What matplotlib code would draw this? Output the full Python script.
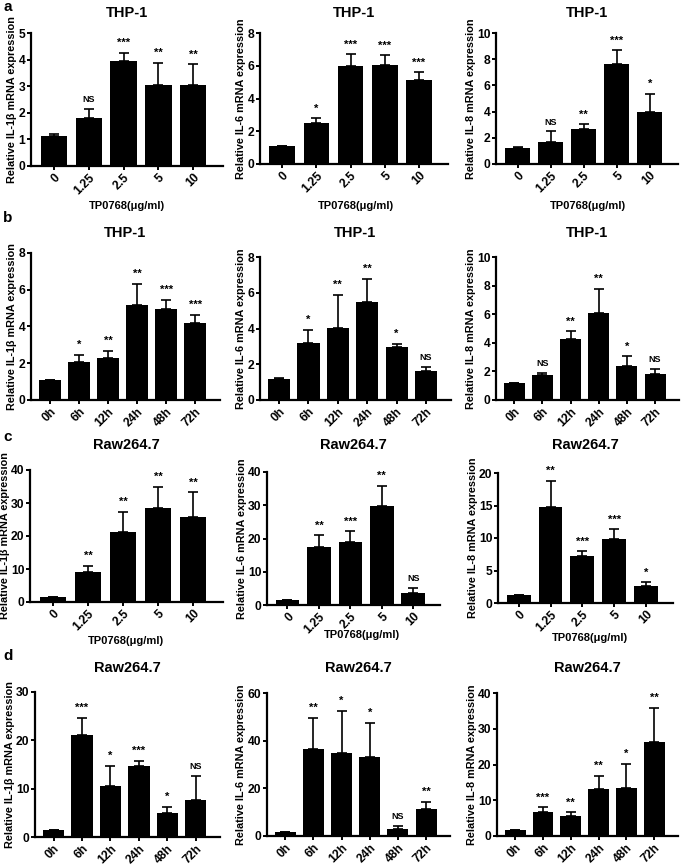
import matplotlib
matplotlib.use('Agg')
import matplotlib.pyplot as plt
import numpy as np

plt.rcParams['font.family'] = ['Liberation Sans Narrow', 'Liberation Sans', 'DejaVu Sans']
plt.rcParams['font.weight'] = 'bold'

dose = ['0', '1.25', '2.5', '5', '10']
hours = ['0h', '6h', '12h', '24h', '48h', '72h']

# row a: THP-1, dose
a_il1b = [1.12, 1.8, 3.95, 3.03, 3.03]
a_il1b_err = [0.08, 0.35, 0.3, 0.85, 0.8]
a_il1b_sig = ['', 'NS', '***', '**', '**']
a_il6 = [1.1, 2.5, 6.0, 6.05, 5.1]
a_il6_err = [0.02, 0.3, 0.7, 0.6, 0.5]
a_il6_sig = ['', '*', '***', '***', '***']
a_il8 = [1.25, 1.7, 2.7, 7.6, 3.95]
a_il8_err = [0.03, 0.8, 0.35, 1.1, 1.4]
a_il8_sig = ['', 'NS', '**', '***', '*']

# row b: THP-1, time
b_il1b = [1.1, 2.05, 2.27, 5.15, 4.95, 4.2]
b_il1b_err = [0.0, 0.4, 0.4, 1.15, 0.5, 0.45]
b_il1b_sig = ['', '*', '**', '**', '***', '***']
b_il6 = [1.2, 3.2, 4.05, 5.5, 2.97, 1.6]
b_il6_err = [0.05, 0.7, 1.85, 1.25, 0.15, 0.22]
b_il6_sig = ['', '*', '**', '**', '*', 'NS']
b_il8 = [1.2, 1.72, 4.3, 6.05, 2.4, 1.85]
b_il8_err = [0.0, 0.18, 0.5, 1.7, 0.65, 0.35]
b_il8_sig = ['', 'NS', '**', '**', '*', 'NS']

# row c: Raw264.7, dose
c_il1b = [1.5, 9.0, 21.3, 28.6, 25.7]
c_il1b_err = [0.0, 2.0, 6.0, 6.4, 7.6]
c_il1b_sig = ['', '**', '**', '**', '**']
c_il6 = [1.6, 17.3, 19.0, 29.9, 3.6]
c_il6_err = [0.0, 3.7, 3.2, 5.9, 1.5]
c_il6_sig = ['', '**', '***', '**', 'NS']
c_il8 = [1.3, 14.8, 7.2, 9.8, 2.6]
c_il8_err = [0.0, 4.0, 0.8, 1.6, 0.6]
c_il8_sig = ['', '**', '***', '***', '*']

# row d: Raw264.7, time
d_il1b = [1.5, 21.2, 10.5, 14.6, 4.9, 7.7]
d_il1b_err = [0.0, 3.4, 4.2, 1.1, 1.3, 5.0]
d_il1b_sig = ['', '***', '*', '***', '*', 'NS']
d_il6 = [1.5, 36.7, 34.8, 33.2, 3.0, 11.3]
d_il6_err = [0.0, 13.0, 17.7, 14.3, 1.2, 2.9]
d_il6_sig = ['', '**', '*', '*', 'NS', '**']
d_il8 = [1.7, 6.8, 5.7, 13.2, 13.5, 26.3]
d_il8_err = [0.0, 1.2, 0.9, 3.7, 6.7, 9.5]
d_il8_sig = ['', '***', '**', '**', '*', '**']

W, H = 684, 866
fig = plt.figure(figsize=(W / 100, H / 100), dpi=100)


def make_panel(box, labels, vals, errs, sigs, ymax, ystep, gene, title, title_y, xlab=None):
    l, b, r, t = box  # pixels from top-left
    ax = fig.add_axes([l / W, 1 - b / H, (r - l) / W, (b - t) / H])
    x = np.arange(len(vals))
    ax.bar(x, vals, width=0.75, color='black')
    ax.errorbar(x, vals, yerr=[np.zeros(len(vals)), errs], fmt='none',
                ecolor='black', elinewidth=1.2, capsize=3.5, capthick=1.2)
    for xi, v, e, s in zip(x, vals, errs, sigs):
        if s:
            ax.text(xi, v + e + 0.035 * ymax, s, ha='center', va='bottom',
                    fontsize=6.5 if s == 'NS' else 8, fontweight='bold')
    ax.set_xlim(-0.65, len(vals) - 1 + 0.85)
    ax.set_ylim(0, ymax)
    ticks = np.arange(0, ymax + 0.01, ystep)
    ax.set_yticks(ticks)
    ax.set_yticklabels([f'{v:g}' for v in ticks])
    ax.set_xticks(x)
    ax.set_xticklabels(labels, rotation=45, ha='right', rotation_mode='anchor')
    ax.spines['top'].set_visible(False)
    ax.spines['right'].set_visible(False)
    ax.spines['left'].set_linewidth(1.6)
    ax.spines['bottom'].set_linewidth(1.6)
    ax.tick_params(width=1.4, length=3, labelsize=8.7, pad=1)
    ax.set_ylabel(f'Relative {gene} mRNA expression', fontsize=7.8,
                  fontweight='bold', labelpad=1)
    fig.text((l + r) / 2 / W, 1 - title_y / H, title, ha='center', va='center',
             fontsize=10.5, fontweight='bold')
    if xlab is not None:
        xc, yc = xlab
        fig.text(xc / W, 1 - yc / H, 'TP0768(μg/ml)', ha='center',
                 va='center', fontsize=8, fontweight='bold')
    return ax


make_panel((31, 166, 223, 33), dose, a_il1b, a_il1b_err, a_il1b_sig, 5, 1, 'IL-1β', 'THP-1', 13, (127, 206))
make_panel((260, 164, 448, 33), dose, a_il6, a_il6_err, a_il6_sig, 8, 2, 'IL-6', 'THP-1', 13, (356, 206))
make_panel((496, 164, 678, 33), dose, a_il8, a_il8_err, a_il8_sig, 10, 2, 'IL-8', 'THP-1', 13, (588, 206))

make_panel((31, 400, 220, 253), hours, b_il1b, b_il1b_err, b_il1b_sig, 8, 2, 'IL-1β', 'THP-1', 233)
make_panel((260, 400, 451, 257), hours, b_il6, b_il6_err, b_il6_sig, 8, 2, 'IL-6', 'THP-1', 233)
make_panel((496, 400, 679, 257), hours, b_il8, b_il8_err, b_il8_sig, 10, 2, 'IL-8', 'THP-1', 233)

make_panel((30, 602, 223, 470), dose, c_il1b, c_il1b_err, c_il1b_sig, 40, 10, 'IL-1β', 'Raw264.7', 445, (126, 641))
make_panel((267, 605, 440, 472), dose, c_il6, c_il6_err, c_il6_sig, 40, 10, 'IL-6', 'Raw264.7', 445, (362, 635))
make_panel((498, 603, 673, 473), dose, c_il8, c_il8_err, c_il8_sig, 20, 5, 'IL-8', 'Raw264.7', 445, (590, 638))

make_panel((35, 837, 220, 692), hours, d_il1b, d_il1b_err, d_il1b_sig, 30, 10, 'IL-1β', 'Raw264.7', 668)
make_panel((267, 836, 450, 693), hours, d_il6, d_il6_err, d_il6_sig, 60, 20, 'IL-6', 'Raw264.7', 668)
make_panel((497, 836, 678, 693), hours, d_il8, d_il8_err, d_il8_sig, 40, 10, 'IL-8', 'Raw264.7', 668)

for letter, y in [('a', 7), ('b', 218), ('c', 437), ('d', 656)]:
    fig.text(3 / W, 1 - y / H, letter, ha='left', va='center', fontsize=11,
             fontweight='bold', family=['Liberation Sans', 'DejaVu Sans'])

fig.savefig('out.png', dpi=100, facecolor='white')
